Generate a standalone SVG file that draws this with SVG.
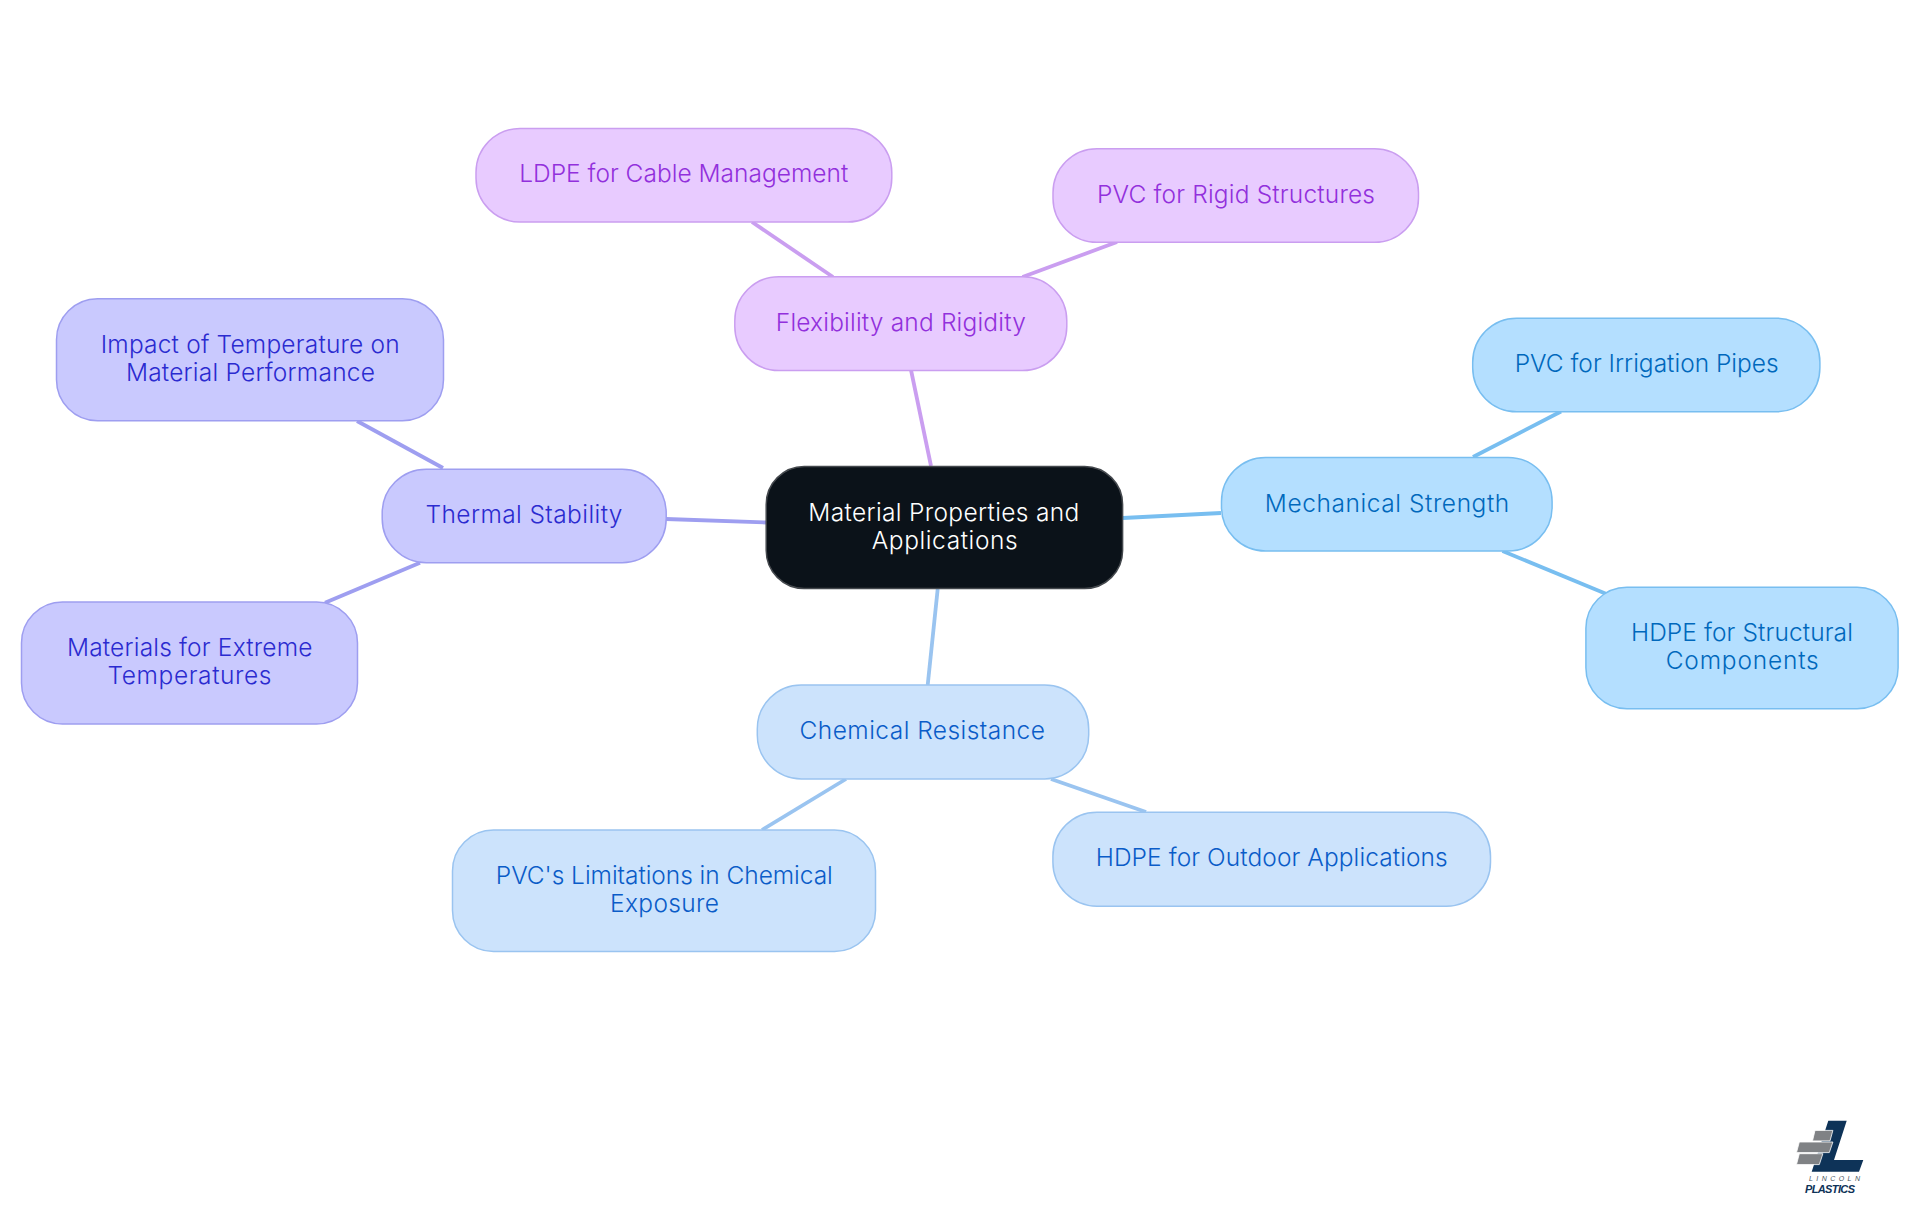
<svg xmlns="http://www.w3.org/2000/svg" width="1920" height="1215" viewBox="0 0 1920 1215">
<style>
text{font-family:"Inter","Noto Sans","Liberation Sans",sans-serif;font-size:24.5px;font-weight:350;text-anchor:middle}
.n{stroke-width:1.5}
.c{fill:none;stroke-width:3.8}
.root rect{fill:#0B1219;stroke:#44484d}.root text{fill:#fff}
.mech rect{fill:#B4DFFF;stroke:#78BEF0}.mech text{fill:#0068BC}
.chem rect{fill:#CCE3FC;stroke:#9AC4F0}.chem text{fill:#0A5CC8}
.therm rect{fill:#C9C9FE;stroke:#9E9EF0}.therm text{fill:#2B2BD0}
.flex rect{fill:#E8CBFF;stroke:#CA9EF0}.flex text{fill:#9230DC}
</style>
<rect width="1920" height="1215" fill="#fff"/>
<g id="connectors">
<line class="c" stroke="#78BEF0" x1="1123" y1="518" x2="1221" y2="513"/>
<line class="c" stroke="#9AC4F0" x1="937.7" y1="589" x2="927.7" y2="685"/>
<line class="c" stroke="#9E9EF0" x1="766" y1="522.5" x2="666" y2="519"/>
<line class="c" stroke="#CA9EF0" x1="931" y1="466" x2="911" y2="370"/>
<line class="c" stroke="#CA9EF0" x1="833" y1="277" x2="752" y2="222"/>
<line class="c" stroke="#CA9EF0" x1="1022.5" y1="277" x2="1117" y2="242"/>
<line class="c" stroke="#9E9EF0" x1="443" y1="468" x2="357" y2="421"/>
<line class="c" stroke="#9E9EF0" x1="420" y1="562.7" x2="325" y2="602.7"/>
<line class="c" stroke="#9AC4F0" x1="846" y1="779" x2="762" y2="830"/>
<line class="c" stroke="#9AC4F0" x1="1051" y1="779" x2="1146" y2="812"/>
<line class="c" stroke="#78BEF0" x1="1473" y1="457" x2="1561" y2="411.5"/>
<line class="c" stroke="#78BEF0" x1="1502.5" y1="551" x2="1606.5" y2="594"/>
</g>
<g id="root" class="root"><rect class="n" x="766.2" y="466.5" width="356.4" height="122" rx="38"/><text x="943.8" y="521" textLength="271" lengthAdjust="spacing">Material Properties and</text><text x="944.7" y="549" textLength="146" lengthAdjust="spacing">Applications</text></g>
<g id="flex" class="flex"><rect class="n" x="734.8" y="276.7" width="332" height="93.8" rx="44"/><text x="900.8" y="330.7" textLength="250" lengthAdjust="spacing">Flexibility and Rigidity</text></g>
<g id="ldpe" class="flex"><rect class="n" x="476" y="128.4" width="415.8" height="93.6" rx="44"/><text x="683.7" y="181.7" textLength="329" lengthAdjust="spacing">LDPE for Cable Management</text></g>
<g id="pvc-rigid" class="flex"><rect class="n" x="1053" y="148.7" width="365.5" height="93.6" rx="44"/><text x="1236" y="202.7" textLength="278" lengthAdjust="spacing">PVC for Rigid Structures</text></g>
<g id="thermal" class="therm"><rect class="n" x="382.2" y="469.2" width="284" height="93.5" rx="44"/><text x="524" y="522.7" textLength="197" lengthAdjust="spacing">Thermal Stability</text></g>
<g id="impact" class="therm"><rect class="n" x="56.5" y="298.8" width="387" height="122" rx="41"/><text x="250.2" y="352.7" textLength="299" lengthAdjust="spacing">Impact of Temperature on</text><text x="250.4" y="380.7" textLength="249" lengthAdjust="spacing">Material Performance</text></g>
<g id="materials" class="therm"><rect class="n" x="21.5" y="602" width="336" height="122" rx="41"/><text x="189.7" y="656" textLength="245.5" lengthAdjust="spacing">Materials for Extreme</text><text x="189.5" y="684" textLength="164" lengthAdjust="spacing">Temperatures</text></g>
<g id="chemical" class="chem"><rect class="n" x="757.3" y="684.9" width="331.4" height="94" rx="44"/><text x="922.2" y="739" textLength="245.5" lengthAdjust="spacing">Chemical Resistance</text></g>
<g id="pvc-limits" class="chem"><rect class="n" x="452.5" y="829.9" width="423" height="121.7" rx="41"/><text x="664.3" y="883.7" textLength="337" lengthAdjust="spacing">PVC's Limitations in Chemical</text><text x="664.5" y="911.7" textLength="109" lengthAdjust="spacing">Exposure</text></g>
<g id="hdpe-outdoor" class="chem"><rect class="n" x="1052.9" y="812.2" width="437.6" height="94" rx="44"/><text x="1271.7" y="865.7" textLength="352" lengthAdjust="spacing">HDPE for Outdoor Applications</text></g>
<g id="mechanical" class="mech"><rect class="n" x="1221.5" y="457.4" width="330.6" height="93.6" rx="44"/><text x="1387" y="512" textLength="244.5" lengthAdjust="spacing">Mechanical Strength</text></g>
<g id="pvc-irrigation" class="mech"><rect class="n" x="1472.7" y="318.2" width="347.2" height="93.6" rx="44"/><text x="1646.7" y="371.7" textLength="264" lengthAdjust="spacing">PVC for Irrigation Pipes</text></g>
<g id="hdpe-structural" class="mech"><rect class="n" x="1585.9" y="587.2" width="312.2" height="121.6" rx="41"/><text x="1741.9" y="640.7" textLength="222" lengthAdjust="spacing">HDPE for Structural</text><text x="1742.2" y="668.7" textLength="153" lengthAdjust="spacing">Components</text></g>
<g id="logo">
<polygon fill="#0E3358" points="1828.3,1120.7 1846.7,1120.7 1834,1160 1863.3,1160 1859,1171.7 1811.7,1171.7"/>
<g fill="#808285" stroke="#fff" stroke-width="0.8">
<polygon points="1815,1130.4 1832.9,1130.4 1830,1140.9 1812.5,1140.9"/>
<polygon points="1799.3,1142 1832.9,1142 1829.3,1152.6 1796.5,1152.6"/>
<polygon points="1799.3,1153.7 1822.9,1153.7 1819.3,1164.6 1796.5,1164.6"/>
</g>
<text x="1834.5" y="1181" textLength="51" style="font-family:'Liberation Sans',sans-serif;font-size:7px;font-weight:400;font-style:italic;fill:#4a5560">LINCOLN</text>
<text x="1830" y="1192.5" textLength="50" style="font-family:'Liberation Sans',sans-serif;font-size:11px;font-weight:bold;font-style:italic;fill:#0E3358">PLASTICS</text>
</g>
</svg>
